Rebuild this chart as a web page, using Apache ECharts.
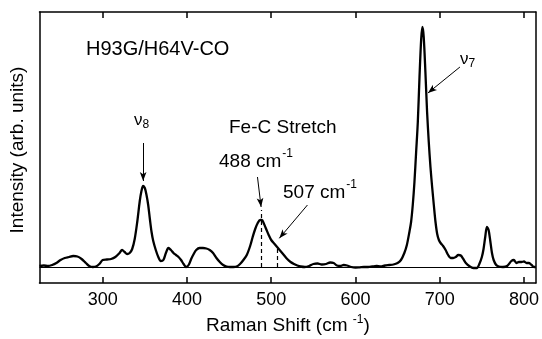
<!DOCTYPE html>
<html><head><meta charset="utf-8">
<script src="https://cdn.jsdelivr.net/npm/echarts@6/dist/echarts.min.js"></script>
<style>html,body{margin:0;padding:0;background:#fff}#c{width:542px;height:339px}</style>
</head><body><div id="c"></div>
<script>
// Raman shift (cm-1)
const shift = [225,230,235,240,245,250,255,260,265,270,275,280,284,288,292,296,300,305,310,315,320,323,326,329,332,335,338,341,344,346,348,350,352,354,356,358,360,363,366,369,372,375,378,381,384,387,390,393,396,399,402,405,408,411,415,419,423,427,431,435,439,443,447,451,455,459,463,467,471,475,478,481,484,487,489,491,494,497,500,504,507,511,515,519,523,527,531,535,540,545,550,555,560,565,570,574,578,582,586,590,595,600,605,610,615,620,625,630,635,640,645,650,654,658,661,664,666,668,670,672,674,676,678,679.5,681,683,685,687,689,691,693,695,697,699,701,704,707,710,713,716,719,722,725,728,731,735,740,744,747,750,752,754,756,758,760,762,764,767,770,775,780,785,788,791,794,797,800,803,806,809,812,814];
// Intensity (arb. units)
const intensity = [1,1.5,1,2,4,7,9,10,11,10.5,8,4,1,0,0.5,3,7,7.5,8,10,14,17,15,13,14,18,28,45,66,76,81,79,72,62,48,35,26,17,10,6,7,14,19,17,14,12,10,7,3,0,2,8,13,17,19,19,18.5,17,14,9,5,2,0.5,0,0,0.5,3,7,12,21,30,38,44,47,47,44,38,32,27,23,20,16,12,8,5,3,1.5,0.5,0,1,3,3.5,2.5,3,4.5,4,1.5,1,2,1.5,0,-0.5,-0.3,0,0,0.5,1,0.5,1.5,2,2.5,4,7,14,22,35,45,62,85,115,145,190,228,240,230,195,155,125,100,80,62,45,33,27,24,21,17,12,9,9,10,12,11.5,8,4,1,-1,-1,3,10,18,30,40,37,26,14,7,2,0.5,0,1,6,7,4,5,5,5.5,4,4,2,0,0];
const xTicks = [300,400,500,600,700,800];

const chart = echarts.init(document.getElementById('c'));
const FONT = "'Liberation Sans', Arial, sans-serif";
const solid = {type: 'solid', width: 1, color: '#000'};
chart.setOption({
  animation: false,
  backgroundColor: '#fff',
  grid: {left: 39.5, right: 4, top: 12, bottom: 56},
  xAxis: [{
    type: 'value', min: 225, max: 814, position: 'bottom',
    axisLine: {show: true, onZero: false, lineStyle: {color: '#000', width: 1.5}},
    axisTick: {show: true, inside: true, length: 6, lineStyle: {color: '#000', width: 1.5}, customValues: xTicks},
    axisLabel: {color: '#000', fontSize: 18, fontFamily: FONT, margin: 8, customValues: xTicks},
    splitLine: {show: false}
  }, {
    type: 'value', min: 225, max: 814, position: 'top',
    axisLine: {show: true, onZero: false, lineStyle: {color: '#000', width: 1.5}},
    axisTick: {show: true, inside: true, length: 6, lineStyle: {color: '#000', width: 1.5}, customValues: xTicks},
    axisLabel: {show: false}, splitLine: {show: false}
  }],
  yAxis: [{
    type: 'value', min: -16, max: 255,
    axisLine: {show: true, lineStyle: {color: '#000', width: 1.5}},
    axisTick: {show: false}, axisLabel: {show: false}, splitLine: {show: false}
  }, {
    type: 'value', min: -16, max: 255, position: 'right',
    axisLine: {show: true, lineStyle: {color: '#000', width: 1.5}},
    axisTick: {show: false}, axisLabel: {show: false}, splitLine: {show: false}
  }],
  series: [{
    type: 'line', symbol: 'none', smooth: 0.3,
    data: shift.map((x, i) => [x, intensity[i]]),
    lineStyle: {color: '#000', width: 2.3},
    markLine: {
      silent: true, animation: false, symbol: ['none', 'none'],
      label: {show: false},
      data: [
        {yAxis: 0, lineStyle: solid},
        [{coord: [488, 0], lineStyle: {type: [4, 3], width: 1.2, color: '#000'}}, {coord: [488, 57]}],
        [{coord: [507, 0], lineStyle: {type: [4, 3], width: 1.2, color: '#000'}}, {coord: [507, 20]}],
        [{coord: [348, 124], symbol: 'none', lineStyle: solid}, {coord: [348, 86], symbol: 'arrow', symbolSize: [5, 9]}],
        [{coord: [483.7, 90], symbol: 'none', lineStyle: solid}, {coord: [488, 60], symbol: 'arrow', symbolSize: [5, 9]}],
        [{coord: [543, 62], symbol: 'none', lineStyle: solid}, {coord: [509.6, 28.7], symbol: 'arrow', symbolSize: [5, 9]}],
        [{coord: [724, 200], symbol: 'none', lineStyle: solid}, {coord: [686, 174], symbol: 'arrow', symbolSize: [5, 9]}]
      ]
    }
  }],
  graphic: [
    {type: 'text', left: 86, top: 39, style: {text: 'H93G/H64V-CO', font: "20px " + FONT, fill: '#000'}},
    {type: 'text', left: 229, top: 118, style: {text: 'Fe-C Stretch', font: "19px " + FONT, fill: '#000'}},
    {type: 'text', left: 219, top: 148, style: {text: '{n|488 cm}{s|-1}', rich: {n: {font: "19px " + FONT, fill: '#000', verticalAlign: 'bottom'}, s: {font: "12px " + FONT, fill: '#000', verticalAlign: 'top', padding: [0,0,11,1]}}}},
    {type: 'text', left: 283, top: 179, style: {text: '{n|507 cm}{s|-1}', rich: {n: {font: "19px " + FONT, fill: '#000', verticalAlign: 'bottom'}, s: {font: "12px " + FONT, fill: '#000', verticalAlign: 'top', padding: [0,0,11,1]}}}},
    {type: 'text', left: 134, top: 112, style: {text: '{n|ν}{s|8}', rich: {n: {font: "17px " + FONT, fill: '#000'}, s: {font: "12px " + FONT, fill: '#000', padding: [8,0,0,0]}}}},
    {type: 'text', left: 460, top: 51, style: {text: '{n|ν}{s|7}', rich: {n: {font: "17px " + FONT, fill: '#000'}, s: {font: "12px " + FONT, fill: '#000', padding: [8,0,0,0]}}}},
    {type: 'text', left: 206, top: 314, style: {text: '{n|Raman Shift (cm }{s|-1}{n|)}', rich: {n: {font: "19px " + FONT, fill: '#000'}, s: {font: "12px " + FONT, fill: '#000', padding: [0,0,11,0]}}}},
    {type: 'text', x: 18, y: 150, rotation: Math.PI / 2, style: {text: 'Intensity (arb. units)', font: "19px " + FONT, fill: '#000', align: 'center', verticalAlign: 'middle'}}
  ]
});
</script></body></html>
